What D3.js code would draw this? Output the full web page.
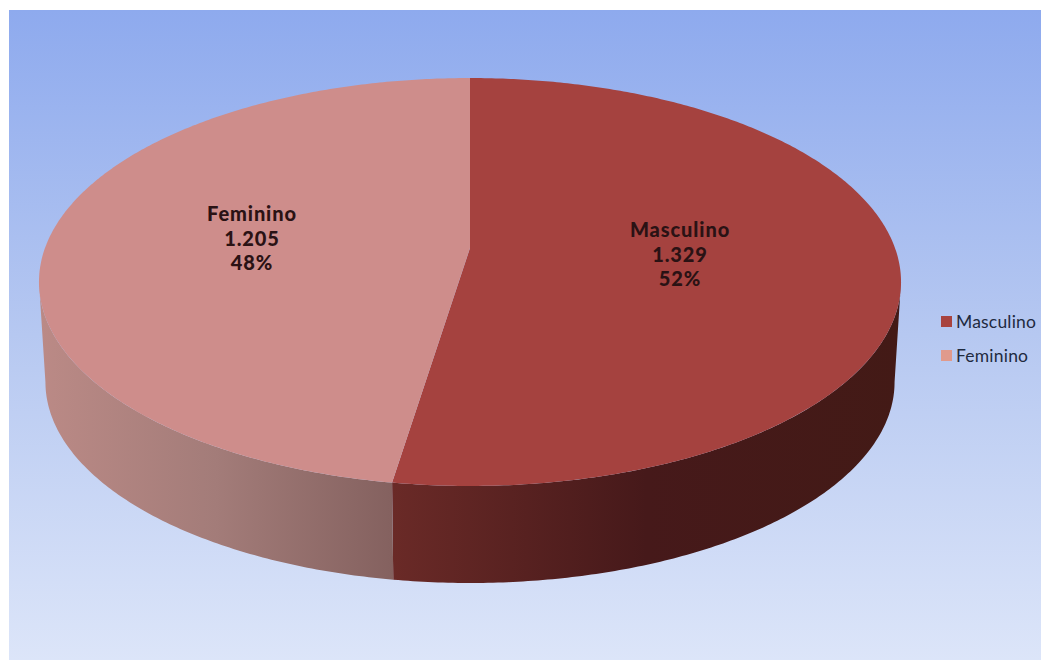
<!DOCTYPE html>
<html>
<head>
<meta charset="utf-8">
<script src="https://cdn.jsdelivr.net/npm/d3@7"></script>
<style>
    html, body { margin: 0; padding: 0; background: #fff; }
    svg { display: block; }
    text { font-family: Lato, "Open Sans", sans-serif; }
</style>
</head>
<body>
<svg id="chart" width="1041" height="660"></svg>
<script>
//Chart data
const categories = ["Masculino", "Feminino"];
const values = [1329, 1205];
const valueLabels = ["1.329", "1.205"];
const percentLabels = ["52%", "48%"];

const topColors = ["#a5423f", "#ce8d8b"];
const legendColors = ["#a8433f", "#e09a8c"];
const sideColors = [["#6a2a27", "#46191a", "#431a16"], ["#bb8a86", "#a37c79", "#84615f"]];

const width = 1041;
const height = 660;

const svg = d3.select("svg#chart");
const defs = svg.append("defs");

//Background panel
const bg = defs.append("linearGradient").attr("id", "bg")
    .attr("x1", 0).attr("y1", 0).attr("x2", 0).attr("y2", 1);
bg.append("stop").attr("offset", "0%").attr("stop-color", "#8eaaee");
bg.append("stop").attr("offset", "50%").attr("stop-color", "#b6c8f1");
bg.append("stop").attr("offset", "100%").attr("stop-color", "#dce5f9");

svg.append("rect")
    .attr("x", 9).attr("y", 10)
    .attr("width", width - 9).attr("height", height - 10)
    .attr("fill", "url(#bg)");

//Tilted pie: the circle goes through a small perspective so the centre sits above the ellipse middle
const pieX = 470, pieY = 248, radiusX = 425, radiusY = 198.3, tilt = 1 / 6, depth = 100.6;

function project(angle, r, drop) {
    const u = Math.sin(angle) * r;
    const v = -Math.cos(angle) * r;
    const w = 1 - tilt * v;
    const k = drop ? 0.985 : 1;
    return [pieX + radiusX * k * u / w, pieY + radiusY * k * v / w + (drop ? depth : 0)];
}

const pie = d3.pie().sort(null).startAngle(0).endAngle(2 * Math.PI);
const slices = pie(values);
const line = d3.line();

function arcPoints(a0, a1, drop) {
    const n = Math.max(2, Math.ceil((a1 - a0) / 0.01));
    return d3.range(n + 1).map(i => project(a0 + (a1 - a0) * i / n, 1, drop));
}

//Side wall, only the front of the rim shows, from widest point to widest point
const frontStart = Math.acos(-tilt), frontEnd = 2 * Math.PI - frontStart;

slices.forEach((d, i) => {
    const a0 = Math.max(d.startAngle, frontStart);
    const a1 = Math.min(d.endAngle, frontEnd);
    const upper = arcPoints(a0, a1, false);
    const lower = arcPoints(a0, a1, true).reverse();
    const xs = upper.concat(lower).map(p => p[0]);

    const grad = defs.append("linearGradient").attr("id", "side" + i)
        .attr("gradientUnits", "userSpaceOnUse")
        .attr("x1", d3.min(xs)).attr("y1", 0)
        .attr("x2", d3.max(xs)).attr("y2", 0);
    grad.append("stop").attr("offset", "0%").attr("stop-color", sideColors[i][0]);
    grad.append("stop").attr("offset", "50%").attr("stop-color", sideColors[i][1]);
    grad.append("stop").attr("offset", "100%").attr("stop-color", sideColors[i][2]);

    svg.append("path")
        .attr("d", line(upper.concat(lower)) + "Z")
        .attr("fill", "url(#side" + i + ")");
});

//Top face
slices.forEach((d, i) => {
    const rim = arcPoints(d.startAngle, d.endAngle, false);
    svg.append("path")
        .attr("d", line([project(0, 0, false)].concat(rim)) + "Z")
        .attr("fill", topColors[i]);
});

//Data labels
const labelPos = [[680, 237], [252, 221]];
categories.forEach((c, i) => {
    const g = svg.append("g").attr("transform", `translate(${labelPos[i][0]},${labelPos[i][1]})`);
    [c, valueLabels[i], percentLabels[i]].forEach((t, j) => {
        g.append("text")
            .attr("y", j * 24.5)
            .attr("text-anchor", "middle")
            .attr("font-size", 20)
            .attr("font-weight", 900)
            .attr("letter-spacing", 0.9)
            .attr("fill", "#2a1214")
            .text(t);
    });
});

//Legend
const legendY = d3.scalePoint().domain(categories).range([321.5, 355.5]);
categories.forEach((c, i) => {
    svg.append("rect")
        .attr("x", 941).attr("y", legendY(c) - 5.5)
        .attr("width", 11).attr("height", 11)
        .attr("fill", legendColors[i]);
    svg.append("text")
        .attr("x", 956).attr("y", legendY(c) + 6)
        .attr("font-size", 17.5)
        .attr("letter-spacing", 0.2)
        .attr("fill", "#1f2a3f")
        .text(c);
});
</script>
</body>
</html>
